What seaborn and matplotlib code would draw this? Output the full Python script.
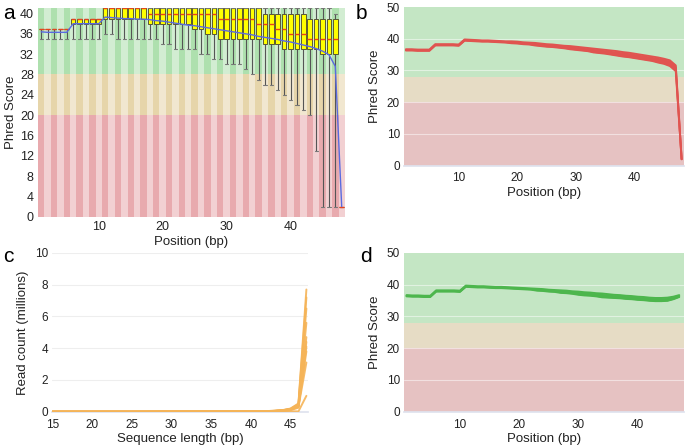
import pandas as pd
import matplotlib
matplotlib.use("Agg")
import matplotlib.pyplot as plt
import seaborn as sns

sns.set_theme(style="white")
plt.rcParams['font.family'] = ['Liberation Sans', 'DejaVu Sans']

# ---------------- data ----------------
# panel a : per-base quality boxes (positions 1..48)
positions = list(range(1, 49))
box_med = [37] * 5 + [39] * 5 + [41] * 7 + [40] * 11 + [39] * 6 + [38] * 3 + [37] * 2 + [36] * 3 + [35] * 5 + [2]
box_q3 = [37] * 5 + [39] * 5 + [41] * 25 + [40] * 7 + [39] * 5 + [2]
box_q1 = ([37] * 5 + [38] * 5 + [39] * 7 + [38] * 7 + [37] * 2 + [36] * 2
          + [35] * 7 + [34] * 3 + [33] * 6 + [32] * 3 + [2])
whisk_lo = ([35] * 10 + [36] * 2 + [35] * 7 + [34] * 2 + [33] * 4 + [32] * 2 + [31] * 2
            + [30] * 3 + [29, 28, 27, 26, 26, 25, 24, 23, 22, 21, 20, 13, 2, 2, 2, 2])
whisk_hi = [37] * 5 + [39] * 5 + [41] * 36 + [40] + [2]
a_mean = [36.4, 36.3, 36.3, 36.3, 36.3, 38.0, 38.0, 38.0, 38.0, 38.0,
          39.3, 39.2, 39.1, 39.0, 39.0, 38.9, 38.9, 38.8, 38.6, 38.5,
          38.3, 38.1, 37.9, 37.7, 37.6, 37.4, 37.2, 37.0, 36.8, 36.6,
          36.4, 36.2, 36.0, 35.8, 35.5, 35.3, 35.1, 34.9, 34.6, 34.4,
          34.1, 33.8, 33.5, 33.1, 32.6, 31.9, 29.6, 2.0]

# panel b : mean quality per sample (untrimmed)
b_upper = [36.7, 36.7, 36.6, 36.6, 36.6, 38.3, 38.3, 38.3, 38.3, 38.2,
           39.8, 39.7, 39.6, 39.5, 39.5, 39.4, 39.3, 39.2, 39.2, 39.1,
           38.9, 38.8, 38.7, 38.5, 38.3, 38.2, 38.0, 37.8, 37.7, 37.5,
           37.3, 37.1, 36.9, 36.7, 36.5, 36.3, 36.1, 35.8, 35.6, 35.3,
           35.0, 34.7, 34.4, 34.1, 33.7, 33.2, 31.6, 2.0]
b_mid = [36.5, 36.5, 36.4, 36.4, 36.4, 38.1, 38.1, 38.1, 38.1, 38.0,
         39.6, 39.5, 39.4, 39.3, 39.3, 39.2, 39.1, 39.0, 38.9, 38.8,
         38.6, 38.5, 38.3, 38.1, 37.9, 37.8, 37.6, 37.4, 37.2, 37.0,
         36.8, 36.6, 36.3, 36.1, 35.9, 35.6, 35.4, 35.1, 34.9, 34.6,
         34.3, 34.0, 33.7, 33.3, 32.9, 32.3, 30.8, 2.0]
b_lower = [36.3, 36.3, 36.2, 36.2, 36.2, 37.9, 37.9, 37.9, 37.9, 37.8,
           39.4, 39.3, 39.2, 39.1, 39.1, 39.0, 38.9, 38.8, 38.6, 38.5,
           38.3, 38.2, 37.9, 37.7, 37.5, 37.4, 37.2, 37.0, 36.7, 36.5,
           36.3, 36.1, 35.7, 35.5, 35.3, 35.0, 34.7, 34.4, 34.2, 33.9,
           33.6, 33.3, 33.0, 32.5, 32.1, 31.4, 29.8, 2.0]

# panel c : sequence length distribution (millions of reads)
c_len = [15, 20, 25, 30, 35, 40, 42, 43, 44, 45, 46, 47]
c_s1 = [0.0, 0.0, 0.0, 0.01, 0.01, 0.02, 0.04, 0.06, 0.10, 0.20, 0.52, 7.70]
c_s2 = [0.0, 0.0, 0.0, 0.01, 0.01, 0.02, 0.04, 0.06, 0.09, 0.18, 0.47, 7.20]
c_s3 = [0.0, 0.0, 0.0, 0.01, 0.01, 0.02, 0.04, 0.05, 0.09, 0.17, 0.42, 6.50]
c_s4 = [0.0, 0.0, 0.0, 0.01, 0.01, 0.02, 0.03, 0.05, 0.08, 0.16, 0.40, 5.60]
c_s5 = [0.0, 0.0, 0.0, 0.01, 0.01, 0.02, 0.03, 0.05, 0.08, 0.15, 0.38, 4.70]
c_s6 = [0.0, 0.0, 0.0, 0.01, 0.01, 0.02, 0.03, 0.04, 0.07, 0.14, 0.36, 4.10]
c_s7 = [0.0, 0.0, 0.0, 0.0, 0.01, 0.01, 0.03, 0.04, 0.07, 0.13, 0.32, 3.80]
c_s8 = [0.0, 0.0, 0.0, 0.0, 0.01, 0.01, 0.02, 0.04, 0.06, 0.12, 0.30, 3.10]
c_s9 = [0.0, 0.0, 0.0, 0.0, 0.01, 0.01, 0.02, 0.03, 0.05, 0.10, 0.25, 4.40]
c_s10 = [0.0, 0.0, 0.0, 0.0, 0.0, 0.01, 0.01, 0.02, 0.02, 0.03, 0.02, 1.00]

# panel d : mean quality per sample (trimmed)
d_pos = list(range(1, 48))
d_upper = [36.7, 36.6, 36.6, 36.5, 36.5, 38.2, 38.2, 38.2, 38.2, 38.1,
           39.7, 39.6, 39.5, 39.5, 39.4, 39.3, 39.3, 39.2, 39.1, 39.0,
           38.9, 38.8, 38.7, 38.6, 38.4, 38.3, 38.2, 38.1, 37.9, 37.8,
           37.6, 37.5, 37.3, 37.2, 37.0, 36.8, 36.7, 36.5, 36.4, 36.2,
           36.1, 35.9, 35.8, 35.8, 35.9, 36.2, 36.7]
d_mid = [36.5, 36.4, 36.4, 36.3, 36.3, 38.0, 38.0, 38.0, 38.0, 37.9,
         39.5, 39.4, 39.3, 39.3, 39.2, 39.1, 39.1, 39.0, 38.9, 38.8,
         38.7, 38.6, 38.4, 38.3, 38.1, 38.0, 37.8, 37.7, 37.5, 37.3,
         37.1, 37.0, 36.8, 36.6, 36.5, 36.3, 36.2, 36.0, 35.9, 35.7,
         35.6, 35.4, 35.3, 35.3, 35.4, 35.8, 36.4]
d_lower = [36.3, 36.2, 36.2, 36.1, 36.1, 37.8, 37.8, 37.8, 37.8, 37.7,
           39.3, 39.2, 39.1, 39.1, 39.0, 38.9, 38.9, 38.8, 38.7, 38.6,
           38.5, 38.4, 38.1, 38.0, 37.8, 37.7, 37.4, 37.3, 37.1, 36.8,
           36.6, 36.5, 36.3, 36.0, 35.9, 35.8, 35.7, 35.5, 35.4, 35.2,
           35.1, 34.9, 34.8, 34.8, 34.9, 35.4, 36.1]

TEXT = '#222222'


def long_frame(x, series):
    rows = []
    for name, vals in series.items():
        for xv, yv in zip(x, vals):
            rows.append({'x': xv, 'y': yv, 'sample': name})
    return pd.DataFrame(rows)


def quality_zones(ax, top):
    ax.axhspan(0, 20, color='#e6c2c2', lw=0, zorder=0)
    ax.axhspan(20, 28, color='#e6dcc5', lw=0, zorder=0)
    ax.axhspan(28, top, color='#c4e6c4', lw=0, zorder=0)
    for y in range(10, top, 10):
        ax.axhline(y, color='white', lw=0.8, alpha=0.5, zorder=1)


def style_line_axes(ax):
    for s in ['top', 'right', 'left']:
        ax.spines[s].set_visible(False)
    ax.spines['bottom'].set_color('#dfe3ee')
    ax.tick_params(axis='x', length=3, color='#dfe3ee', labelsize=8.5, labelcolor=TEXT, pad=2)
    ax.tick_params(axis='y', length=0, labelsize=8.5, labelcolor=TEXT, pad=3)


fig = plt.figure(figsize=(6.85, 4.45), dpi=100)

# ---------------- panel a ----------------
ax_a = fig.add_axes([0.0555, 0.513, 0.448, 0.468])
ax_a.axhspan(0, 20, color='#e8aaae', lw=0, zorder=0)
ax_a.axhspan(20, 28, color='#e6d5aa', lw=0, zorder=0)
ax_a.axhspan(28, 41, color='#aee0ae', lw=0, zorder=0)
for p in positions:
    if p % 2 == 0:
        ax_a.axvspan(p - 0.5, p + 0.5, color='white', alpha=0.45, lw=0, zorder=0.5)

stats = []
for i, p in enumerate(positions):
    stats.append(dict(med=box_med[i], q1=box_q1[i], q3=box_q3[i],
                      whislo=whisk_lo[i], whishi=whisk_hi[i], label=str(p)))
ax_a.bxp(stats, positions=positions, widths=0.72, showfliers=False, patch_artist=True,
         boxprops=dict(facecolor='#ffff00', edgecolor='#5a5a30', lw=0.7),
         medianprops=dict(color='#e8441c', lw=1.0),
         whiskerprops=dict(color='#555555', lw=0.8),
         capprops=dict(color='#777777', lw=0.8), capwidths=0.5, zorder=2)
sns.lineplot(x=positions, y=a_mean, ax=ax_a, color='#5a6ae0', lw=1.0, zorder=3)
ax_a.set_xlim(0.5, 48.5)
ax_a.set_ylim(0, 41)
ax_a.set_yticks(range(0, 41, 4))
ax_a.set_xticks([10, 20, 30, 40])
ax_a.set_xticklabels(['10', '20', '30', '40'])
for s in ax_a.spines.values():
    s.set_visible(False)
ax_a.tick_params(length=0, labelsize=9, labelcolor=TEXT, pad=3)
ax_a.set_xlabel('Position (bp)', fontsize=9.5, color=TEXT, labelpad=2)
ax_a.set_ylabel('Phred Score', fontsize=9.5, color=TEXT, labelpad=2)

# ---------------- panel b ----------------
ax_b = fig.add_axes([0.590, 0.628, 0.4085, 0.356])
quality_zones(ax_b, 50)
df_b = long_frame(positions, {'upper': b_upper, 'mid': b_mid, 'lower': b_lower})
ax_b.fill_between(positions, b_lower, b_upper, color='#e05450', lw=0, zorder=2)
sns.lineplot(data=df_b, x='x', y='y', hue='sample', palette=['#e05450'] * 3,
             legend=False, lw=1.4, ax=ax_b, zorder=3)
ax_b.set_xlim(0.7, 48.4)
ax_b.set_ylim(0, 50)
ax_b.set_yticks(range(0, 51, 10))
ax_b.set_xticks([10, 20, 30, 40])
style_line_axes(ax_b)
ax_b.set_xlabel('Position (bp)', fontsize=9.5, color=TEXT, labelpad=2)
ax_b.set_ylabel('Phred Score', fontsize=9.5, color=TEXT, labelpad=4)

# ---------------- panel c ----------------
ax_c = fig.add_axes([0.0764, 0.0748, 0.3732, 0.3567])
c_series = {'s1': c_s1, 's2': c_s2, 's3': c_s3, 's4': c_s4, 's5': c_s5,
            's6': c_s6, 's7': c_s7, 's8': c_s8, 's9': c_s9, 's10': c_s10}
df_c = long_frame(c_len, c_series)
sns.lineplot(data=df_c, x='x', y='y', hue='sample', palette=['#f5b458'] * len(c_series),
             legend=False, lw=1.4, alpha=0.9, ax=ax_c, zorder=3)
ax_c.set_xlim(15, 47.2)
ax_c.set_ylim(0, 10)
ax_c.set_yticks(range(0, 11, 2))
ax_c.set_xticks(range(15, 46, 5))
ax_c.yaxis.grid(True, color='#eeeeee', lw=0.8)
style_line_axes(ax_c)
ax_c.set_xlabel('Sequence length (bp)', fontsize=9.5, color=TEXT, labelpad=2)
ax_c.set_ylabel('Read count (millions)', fontsize=9.5, color=TEXT, labelpad=4)

# ---------------- panel d ----------------
ax_d = fig.add_axes([0.590, 0.0748, 0.4085, 0.357])
quality_zones(ax_d, 50)
df_d = long_frame(d_pos, {'upper': d_upper, 'mid': d_mid, 'lower': d_lower})
ax_d.fill_between(d_pos, d_lower, d_upper, color='#4db64d', lw=0, zorder=2)
sns.lineplot(data=df_d, x='x', y='y', hue='sample', palette=['#4db64d'] * 3,
             legend=False, lw=1.4, ax=ax_d, zorder=3)
ax_d.set_xlim(0.6, 47.8)
ax_d.set_ylim(0, 50)
ax_d.set_yticks(range(0, 51, 10))
ax_d.set_xticks([10, 20, 30, 40])
style_line_axes(ax_d)
ax_d.set_xlabel('Position (bp)', fontsize=9.5, color=TEXT, labelpad=2)
ax_d.set_ylabel('Phred Score', fontsize=9.5, color=TEXT, labelpad=4)

# panel letters
for letter, x, y in [('a', 0.004, 0.992), ('b', 0.519, 0.992), ('c', 0.004, 0.445), ('d', 0.526, 0.445)]:
    fig.text(x, y, letter, fontsize=15, color='black', ha='left', va='top')

fig.savefig('out.png', dpi=100)
